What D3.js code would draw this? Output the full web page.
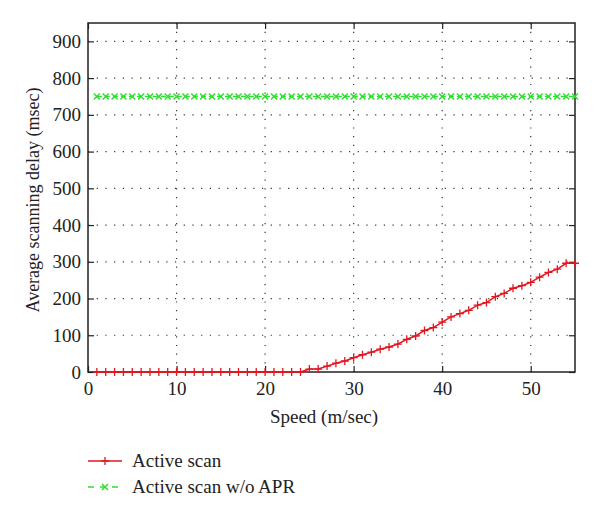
<!DOCTYPE html>
<html>
<head>
<meta charset="utf-8">
<script src="https://cdn.jsdelivr.net/npm/d3@7"></script>
<style>
  body { margin: 0; background: #fff; }
  svg text { font-family: "Liberation Serif", "Times New Roman", "DejaVu Serif", serif; fill: #222; }
</style>
</head>
<body>
<svg id="chart"></svg>
<script>
// data
const speeds = d3.range(1, 56);
const activeScan = [0, 0, 0, 0, 0, 0, 0, 0, 0, 0,
  0, 0, 0, 0, 0, 0, 0, 0, 0, 0,
  0, 0, 0, 0, 8, 8, 16, 24, 30, 39,
  47, 54, 62, 68, 76, 89, 98, 113, 121, 136,
  150, 159, 168, 182, 189, 205, 214, 228, 235, 244,
  258, 271, 280, 296, 296];
const activeNoApr = speeds.map(() => 750);
const xTicks = [0, 10, 20, 30, 40, 50];
const yTicks = [0, 100, 200, 300, 400, 500, 600, 700, 800, 900];
const seriesNames = ["Active scan", "Active scan w/o APR"];

const W = 600, H = 516;
const margin = { top: 23, right: 25, bottom: 144, left: 88 };
const w = W - margin.left - margin.right;
const h = H - margin.top - margin.bottom;
const serif = "'Liberation Serif', 'Times New Roman', 'DejaVu Serif', serif";
const red = "#e3161f", green = "#2ee02e";

const svg = d3.select("#chart").attr("width", W).attr("height", H);
const g = svg.append("g").attr("transform", `translate(${margin.left},${margin.top})`);

const x = d3.scaleLinear().domain([0, 55]).range([0, w]);
const y = d3.scaleLinear().domain([0, 950]).range([h, 0]);

// dotted grid
g.append("g").selectAll("line").data(xTicks.slice(1)).join("line")
  .attr("x1", d => x(d)).attr("x2", d => x(d)).attr("y1", 0).attr("y2", h)
  .attr("stroke", "#333").attr("stroke-width", 1.2).attr("stroke-dasharray", "1.2,7.5");
g.append("g").selectAll("line").data(yTicks.slice(1)).join("line")
  .attr("y1", d => y(d)).attr("y2", d => y(d)).attr("x1", 0).attr("x2", w)
  .attr("stroke", "#333").attr("stroke-width", 1.2).attr("stroke-dasharray", "1.2,7.5");

// axes
const xAxis = g.append("g").attr("transform", `translate(0,${h})`)
  .call(d3.axisBottom(x).tickValues(xTicks).tickSize(-6).tickPadding(10).tickSizeOuter(0));
const xTop = g.append("g")
  .call(d3.axisTop(x).tickValues(xTicks).tickSize(-6).tickFormat("").tickSizeOuter(0));
const yAxis = g.append("g")
  .call(d3.axisLeft(y).tickValues(yTicks).tickSize(-6).tickPadding(7).tickSizeOuter(0));
const yRight = g.append("g").attr("transform", `translate(${w},0)`)
  .call(d3.axisRight(y).tickValues(yTicks).tickSize(-6).tickFormat("").tickSizeOuter(0));
[xAxis, xTop, yAxis, yRight].forEach(a => {
  a.attr("font-family", serif);
  a.select(".domain").remove();
  a.selectAll("line").attr("stroke", "#222").attr("stroke-width", 1.2);
  a.selectAll("text").attr("font-size", 19).attr("fill", "#222");
});
g.append("rect").attr("width", w).attr("height", h)
  .attr("fill", "none").attr("stroke", "#222").attr("stroke-width", 1.5);

// lines
const line = d3.line().x((d, i) => x(speeds[i])).y(d => y(d));

g.append("path").datum(activeNoApr).attr("d", line)
  .attr("fill", "none").attr("stroke", green).attr("stroke-width", 1.5)
  .attr("stroke-dasharray", "5,3");
g.append("g").selectAll("path").data(activeNoApr).join("path")
  .attr("transform", (d, i) => `translate(${x(speeds[i])},${y(d)})`)
  .attr("d", "M-3,-3L3,3M-3,3L3,-3")
  .attr("stroke", green).attr("stroke-width", 1.5);

g.append("path").datum(activeScan).attr("d", line)
  .attr("fill", "none").attr("stroke", red).attr("stroke-width", 1.5);
g.append("g").selectAll("path").data(activeScan).join("path")
  .attr("transform", (d, i) => `translate(${x(speeds[i])},${y(d)})`)
  .attr("d", "M-4,0L4,0M0,-4L0,4")
  .attr("stroke", red).attr("stroke-width", 1.3);

// axis titles
svg.append("text").attr("x", 324).attr("y", 423)
  .attr("text-anchor", "middle").attr("font-size", 19).text("Speed (m/sec)");
svg.append("text")
  .attr("transform", `translate(39,200) rotate(-90)`)
  .attr("text-anchor", "middle").attr("font-size", 18).text("Average scanning delay (msec)");

// legend
const legend = svg.append("g");
const legY = [461, 487];
legend.append("line").attr("x1", 88).attr("x2", 122).attr("y1", legY[0]).attr("y2", legY[0])
  .attr("stroke", red).attr("stroke-width", 1.5);
legend.append("path").attr("transform", `translate(105,${legY[0]})`)
  .attr("d", "M-4,0L4,0M0,-4L0,4").attr("stroke", red).attr("stroke-width", 1.3);
legend.append("line").attr("x1", 88).attr("x2", 122).attr("y1", legY[1]).attr("y2", legY[1])
  .attr("stroke", green).attr("stroke-width", 1.5).attr("stroke-dasharray", "6,6");
legend.append("path").attr("transform", `translate(105,${legY[1]})`)
  .attr("d", "M-3,-3L3,3M-3,3L3,-3").attr("stroke", green).attr("stroke-width", 1.5);
legend.selectAll("text").data(seriesNames).join("text")
  .attr("x", 132).attr("y", (d, i) => legY[i] + 6)
  .attr("font-size", 19).text(d => d);
</script>
</body>
</html>
